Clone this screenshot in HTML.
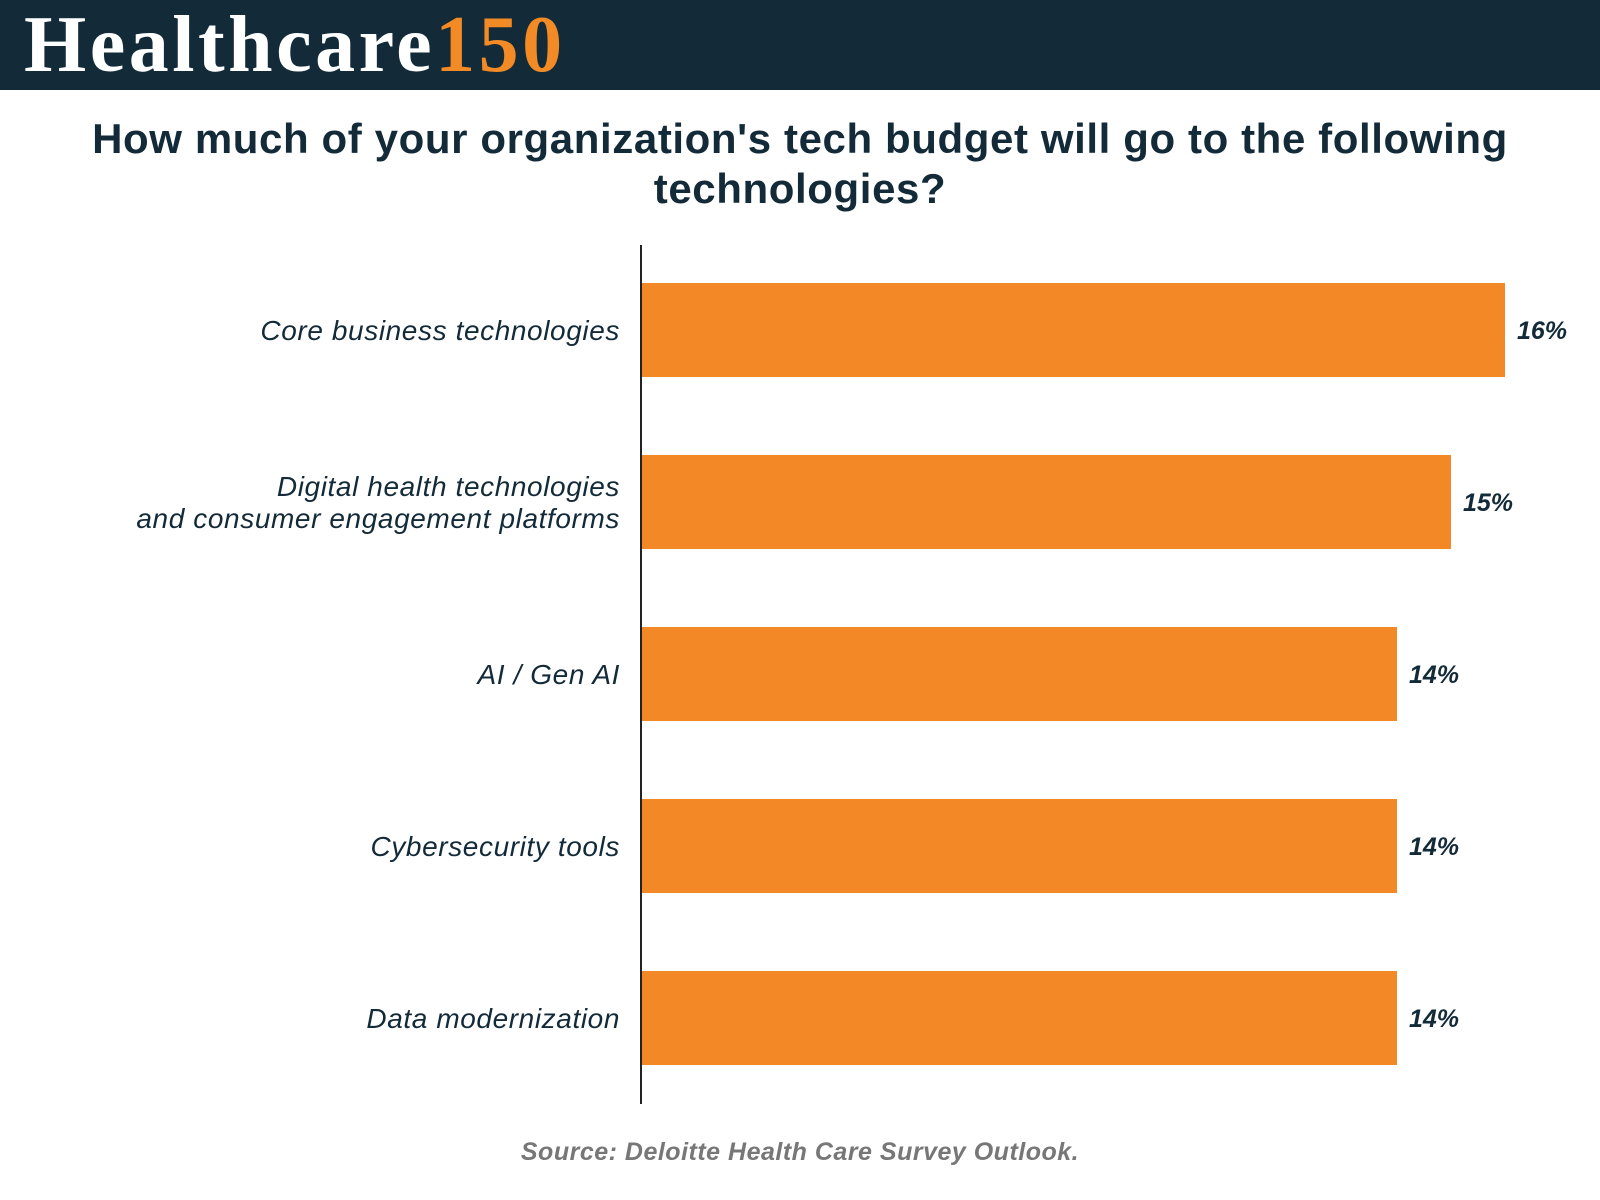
<!DOCTYPE html>
<html><head><meta charset="utf-8"><style>
body{margin:0;width:1600px;height:1200px;background:#fff;overflow:hidden;font-family:"Liberation Sans",sans-serif}
.hdr{position:absolute;left:0;top:0;width:1600px;height:90px;background:#132a38}
.logo{position:absolute;left:24px;top:0px;font-family:"Liberation Serif",serif;font-weight:bold;font-size:80px;color:#fff;letter-spacing:3.5px}
.logo span{color:#f28a26}
.title{position:absolute;left:0;width:1600px;top:114px;text-align:center;font-weight:bold;font-size:42px;letter-spacing:0.6px;line-height:50px;color:#132a38}
.src{position:absolute;left:0;width:1600px;top:1138px;text-align:center;font-weight:bold;font-style:italic;font-size:25px;letter-spacing:0.5px;color:#777}
</style></head><body>
<div class="hdr"><div class="logo">Healthcare<span>150</span></div></div>
<div class="title">How much of your organization's tech budget will go to the following<br>technologies?</div>
<svg id="chart" width="1600" height="1200" style="position:absolute;left:0;top:0"></svg>
<div class="src">Source: Deloitte Health Care Survey Outlook.</div>
<script>
const categories=[["Core business technologies"],["Digital health technologies","and consumer engagement platforms"],["AI / Gen AI"],["Cybersecurity tools"],["Data modernization"]];
const values=[16,15,14,14,14];
const valueLabels=["16%","15%","14%","14%","14%"];
const svg=document.getElementById('chart');
const NS='http://www.w3.org/2000/svg';
const x0=641,pxPer=54,top0=283,pitch=172,bh=94;
const xs=v=>x0+v*pxPer;
const yc=i=>top0+i*pitch+bh/2;
function mk(t,a){const e=document.createElementNS(NS,t);for(const k in a)e.setAttribute(k,a[k]);svg.appendChild(e);return e;}
values.forEach((v,i)=>{
 const r=mk('rect',{x:x0,y:yc(i)-bh/2,width:xs(v)-x0,height:bh,fill:'#f38926'});
 
 
 const t=mk('text',{x:xs(v)+12,y:yc(i)+9,'font-size':25,'font-weight':'bold','font-style':'italic',fill:'#132a38','font-family':'Liberation Sans'});
 t.textContent=valueLabels[i];
 
 
 const lines=categories[i];
 lines.forEach((ln,j)=>{
  const c=mk('text',{x:620,y:yc(i)+10+(j-(lines.length-1)/2)*32,'text-anchor':'end','font-size':28,'font-style':'italic','letter-spacing':0.6,fill:'#132a38','font-family':'Liberation Sans'});
  c.textContent=ln;
  
  
 });
});
const ax=mk('line',{x1:x0,x2:x0,y1:245,y2:1104,stroke:'#222','stroke-width':2});


</script>
</body></html>
